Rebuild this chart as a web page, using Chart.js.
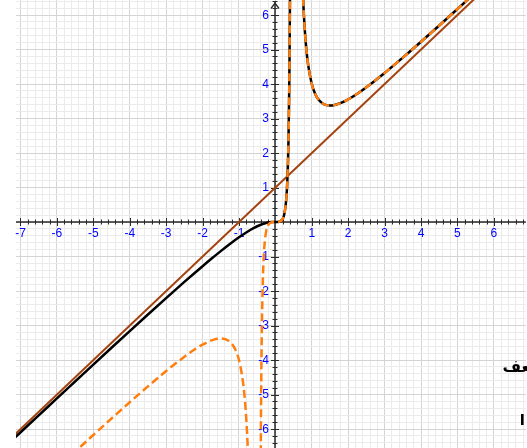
<!DOCTYPE html>
<html><head><meta charset="utf-8">
<script src="https://cdn.jsdelivr.net/npm/chart.js@4.4.1/dist/chart.umd.min.js"></script>
<style>
html,body{margin:0;padding:0;background:#fff;overflow:hidden;}
#wrap{position:relative;width:527px;height:448px;overflow:hidden;}
#c{display:block;}
.ar{position:absolute;font-family:"DejaVu Sans",sans-serif;color:#000;white-space:nowrap;direction:rtl;}
#t1{right:-9px;top:359px;font-size:16px;line-height:16px;font-weight:bold;}
#t2{right:2px;top:413px;font-size:15px;line-height:15px;font-weight:bold;}
</style></head><body>
<div id="wrap"><canvas id="c" width="527" height="448"></canvas>
<div class="ar" id="t1">ـعف</div>
<div class="ar" id="t2">ا</div>
</div>
<script>
// Tick labels
const xTickLabels = [-7,-6,-5,-4,-3,-2,-1,1,2,3,4,5,6];
const yTickLabels = [-6,-5,-4,-3,-2,-1,1,2,3,4,5,6];

// Oblique asymptote (brown line)
const lineX = [-7.2, 6.0];
const lineY = [-6.2, 7.0];

// Black curve, left branch (through the origin up to the vertical asymptote)
const blackLeftX = [-7.2,-6.5,-6,-5.5,-5,-4.5,-4,-3.5,-3,-2.5,-2,-1.75,-1.5,-1.25,-1,-0.8,-0.6,-0.4,-0.3,-0.2,-0.1,0,0.1,0.2,0.25,0.3,0.33,0.36,0.38,0.39,0.4,0.41,0.42];
const blackLeftY = [-6.295,-5.605,-5.112,-4.622,-4.132,-3.645,-3.161,-2.680,-2.204,-1.736,-1.280,-1.059,-0.844,-0.638,-0.444,-0.303,-0.179,-0.079,-0.042,-0.016,-0.003,0,0.006,0.089,0.25,0.675,1.244,2.380,3.811,4.902,6.4,8.509,11.576];

// Black curve, right branch (minimum near (1.5, 3.4))
const blackRightX = [0.7,0.72,0.75,0.8,0.85,0.9,1,1.1,1.2,1.3,1.4,1.5,1.6,1.8,2,2.25,2.5,3,3.5,4,4.5,5,5.5,6];
const blackRightY = [8.575,7.712,6.75,5.689,5.013,4.556,4,3.697,3.527,3.433,3.388,3.375,3.385,3.451,3.556,3.719,3.906,4.32,4.764,5.224,5.695,6.173,6.655,7.140];

// Orange dashed curve, left branch (maximum near (-1.5, -3.4))
const orangeLeftX = [-5.6,-5.3,-5,-4.5,-4,-3.5,-3,-2.5,-2.25,-2,-1.8,-1.6,-1.5,-1.4,-1.3,-1.2,-1.1,-1,-0.9,-0.85,-0.8,-0.75,-0.72,-0.7];
const orangeLeftY = [-6.752,-6.462,-6.173,-5.695,-5.224,-4.764,-4.32,-3.906,-3.719,-3.556,-3.451,-3.385,-3.375,-3.388,-3.433,-3.527,-3.697,-4,-4.556,-5.013,-5.689,-6.75,-7.712,-8.575];

// Orange dashed curve, middle branch
const orangeMidX = [-0.42,-0.41,-0.4,-0.39,-0.38,-0.36,-0.33,-0.3,-0.25,-0.2,-0.1,0,0.1,0.2,0.25,0.3,0.33,0.36,0.38,0.39,0.4,0.41,0.42];
const orangeMidY = [-11.576,-8.509,-6.4,-4.902,-3.811,-2.380,-1.244,-0.675,-0.25,-0.089,-0.006,0,0.006,0.089,0.25,0.675,1.244,2.380,3.811,4.902,6.4,8.509,11.576];

// Orange dashed curve, right branch (coincides with the black one)
const orangeRightX = [0.7,0.72,0.75,0.8,0.85,0.9,1,1.1,1.2,1.3,1.4,1.5,1.6,1.8,2,2.25,2.5,3,3.5,4,4.5,5,5.5,6];
const orangeRightY = [8.575,7.712,6.75,5.689,5.013,4.556,4,3.697,3.527,3.433,3.388,3.375,3.385,3.451,3.556,3.719,3.906,4.32,4.764,5.224,5.695,6.173,6.655,7.140];

const pts = (xs, ys) => xs.map((x, i) => ({x, y: ys[i]}));
const isInt = v => Math.abs(v - Math.round(v)) < 1e-6;
const labelFor = (v, list) => { const n = list.find(k => Math.abs(k - v) < 1e-6); return n === undefined ? '' : String(n); };

const ORANGE = '#ff7f0e', BLACK = '#000000', BROWN = '#a3420e', LABEL = '#0000ff';
const LABEL_FONT = '12px "Liberation Sans", Arial, sans-serif';
const orangeDs = (d) => ({data: d, borderColor: ORANGE, borderWidth: 2.5, borderDash: [8, 4], pointRadius: 0, cubicInterpolationMode: 'monotone', fill: false});
const blackDs = (d) => ({data: d, borderColor: BLACK, borderWidth: 2.5, pointRadius: 0, cubicInterpolationMode: 'monotone', fill: false});

const gridColor = ctx => (ctx.tick && isInt(ctx.tick.value)) ? '#d4d4d4' : '#ebebeb';

const axesPlugin = {
  id: 'crossAxes',
  beforeDatasetsDraw(chart) {
    const {ctx, chartArea: a, scales: {x, y}} = chart;
    const x0 = Math.round(x.getPixelForValue(0)), y0 = Math.round(y.getPixelForValue(0));
    ctx.save();
    ctx.strokeStyle = '#2a2a2a';
    ctx.lineWidth = 1.5;
    ctx.beginPath();
    ctx.moveTo(a.left, y0); ctx.lineTo(a.right, y0);
    ctx.moveTo(x0, a.top + 2); ctx.lineTo(x0, a.bottom);
    ctx.stroke();
    ctx.lineWidth = 1;
    ctx.beginPath();
    x.ticks.forEach(t => {
      if (Math.abs(t.value) < 1e-9) return;
      const p = Math.round(x.getPixelForValue(t.value)) + 0.5;
      const h = isInt(t.value) ? 4 : 2.5;
      ctx.moveTo(p, y0 - h); ctx.lineTo(p, y0 + h);
    });
    y.ticks.forEach(t => {
      if (Math.abs(t.value) < 1e-9) return;
      const p = Math.round(y.getPixelForValue(t.value)) + 0.5;
      const h = isInt(t.value) ? 4 : 2.5;
      ctx.moveTo(x0 - h, p); ctx.lineTo(x0 + h, p);
    });
    ctx.stroke();
    ctx.lineWidth = 1.3;
    ctx.beginPath();
    ctx.moveTo(x0 - 4, a.top + 8.5); ctx.lineTo(x0, a.top + 3); ctx.lineTo(x0 + 4, a.top + 8.5);
    ctx.stroke();
    // y tick labels, to the left of the vertical axis
    ctx.fillStyle = LABEL;
    ctx.font = LABEL_FONT;
    ctx.textAlign = 'right';
    ctx.textBaseline = 'middle';
    yTickLabels.forEach(v => {
      ctx.fillText(String(v), x0 - 6, y.getPixelForValue(v) + 0.5);
    });
    ctx.restore();
  }
};

new Chart(document.getElementById('c'), {
  type: 'line',
  data: {
    datasets: [
      orangeDs(pts(orangeLeftX, orangeLeftY)),
      orangeDs(pts(orangeMidX, orangeMidY)),
      orangeDs(pts(orangeRightX, orangeRightY)),
      blackDs(pts(blackLeftX, blackLeftY)),
      blackDs(pts(blackRightX, blackRightY)),
      {data: pts(lineX, lineY), borderColor: BROWN, borderWidth: 2, pointRadius: 0, fill: false}
    ]
  },
  options: {
    responsive: false,
    animation: false,
    layout: {padding: {left: 16, right: 0, top: 0, bottom: 0}},
    plugins: {legend: {display: false}, tooltip: {enabled: false}},
    scales: {
      x: {
        type: 'linear', min: -7.123, max: 6.877, position: {y: 0},
        afterBuildTicks: s => { const t = []; for (let k = -35; k <= 34; k++) t.push({value: Math.round(k * 200) / 1000}); s.ticks = t; },
        grid: {color: gridColor, lineWidth: 1, drawTicks: false},
        border: {display: false},
        ticks: {autoSkip: false, maxRotation: 0, minRotation: 0, padding: 4, color: LABEL,
          font: {family: 'Liberation Sans', size: 12}, callback: v => labelFor(v, xTickLabels)}
      },
      y: {
        type: 'linear', min: -6.55, max: 6.435, position: {x: 0},
        afterBuildTicks: s => { const t = []; for (let k = -32; k <= 32; k++) t.push({value: Math.round(k * 200) / 1000}); s.ticks = t; },
        grid: {color: gridColor, lineWidth: 1, drawTicks: false},
        border: {display: false},
        ticks: {display: false}
      }
    }
  },
  plugins: [axesPlugin]
});
</script>
</body></html>
